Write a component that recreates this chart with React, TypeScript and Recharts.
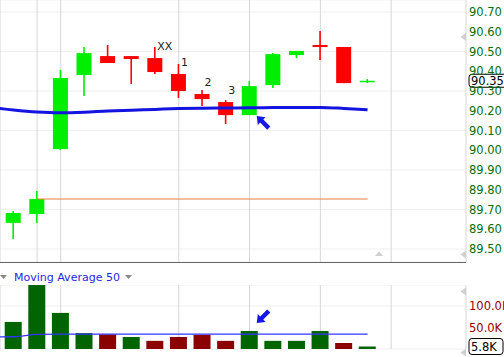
import React from "react"
import { Bar, CartesianGrid, ComposedChart, Line, ReferenceLine, XAxis, YAxis } from "recharts"

// bar slots (one per session), left to right
const slots = [0, 1, 2, 3, 4, 5, 6, 7, 8, 9, 10, 11, 12, 13, 14, 15]
const opens = [89.632, 89.677, 90.006, 90.381, 90.477, 90.477, 90.467, 90.386, 90.285, 90.244, 90.178, 90.33, 90.482, 90.533, 90.523, 90.348]
const highs = [89.692, 89.794, 90.406, 90.523, 90.533, 90.477, 90.523, 90.437, 90.305, 90.254, 90.351, 90.492, 90.503, 90.604, 90.523, 90.361]
const lows = [89.551, 89.632, 90.001, 90.275, 90.442, 90.335, 90.386, 90.265, 90.224, 90.133, 90.178, 90.315, 90.467, 90.457, 90.34, 90.34]
const closes = [89.682, 89.753, 90.366, 90.492, 90.442, 90.462, 90.396, 90.3, 90.259, 90.178, 90.325, 90.487, 90.503, 90.523, 90.34, 90.352]
const volumes = [63, 150, 84, 37, 34, 28, 19, 28, 33, 19, 42, 19, 19, 42, 14, 5.8]
const notes = ["", "", "", "", "", "", "XX", "1", "2", "3", "", "", "", "", "", ""]

// moving averages (slot -1 is the bar before the visible window)
const maSlots = [-1, 0, 1, 2, 3, 4, 5, 6, 7, 8, 9, 10, 11, 12, 13, 14, 15]
const priceMA = [90.218, 90.204, 90.194, 90.19, 90.193, 90.199, 90.203, 90.207, 90.211, 90.213, 90.214, 90.215, 90.216, 90.217, 90.217, 90.212, 90.205]
const volumeMA = [28, 28.5, 34, 34.5, 34.5, 34.5, 34.5, 34.5, 34.5, 34.5, 34.5, 34.5, 34.5, 34.5, 34.5, 34.5, 34.5]

const priceTicks = [89.5, 89.6, 89.7, 89.8, 89.9, 90.0, 90.1, 90.2, 90.3, 90.4, 90.5, 90.6, 90.7]
const volumeTicks = [0, 50, 100]
const gridSlots = [1, 2, 7, 10, 13, 16]
const levelSlots = [1, 15]
const levelPrice = 89.753
const arrowSlot = 10

const FONT = "'DejaVu Sans', Verdana, sans-serif"
const X_DOMAIN: [number, number] = [-0.572, 19.17]

const candles = slots.map((i, k) => ({
  i,
  open: opens[k],
  high: highs[k],
  low: lows[k],
  close: closes[k],
  range: [lows[k], highs[k]],
  note: notes[k],
  arrow: i === arrowSlot,
}))
const volumeRows = slots.map((i, k) => ({
  i,
  vol: volumes[k],
  up: k === 0 || closes[k] >= closes[k - 1],
  arrow: i === arrowSlot,
}))
const maRows = maSlots.map((i, k) => ({ i, ma: priceMA[k] }))
const volMaRows = maSlots.map((i, k) => ({ i, vma: volumeMA[k] }))
const levelRows = levelSlots.map((i) => ({ i, level: levelPrice }))

function Arrow({ x, y, angle }: { x: number; y: number; angle: number }) {
  return (
    <polygon
      points="0,0 -5.5,7 -2.2,7 -2.2,17 2.2,17 2.2,7 5.5,7"
      fill="#1616e6"
      transform={`translate(${x},${y}) rotate(${angle})`}
    />
  )
}

function Candle(props: any) {
  const { x, y, width, height, payload } = props
  if (!payload || payload.open == null) return null
  const top = Math.min(y, y + height)
  const h = Math.abs(height)
  const { open, close, high, low } = payload
  const toY = (v: number) => top + ((high - v) / (high - low)) * h
  const cx = x + width / 2
  const color = close >= open ? "#00ee00" : "#ff0000"
  const bodyTop = toY(Math.max(open, close))
  const bodyBot = toY(Math.min(open, close))
  return (
    <g>
      <line x1={cx} x2={cx} y1={top} y2={top + h} stroke={color} strokeWidth={1.6} />
      <rect x={x} y={bodyTop} width={width} height={Math.max(bodyBot - bodyTop, 1.5)} fill={color} />
      {payload.note ? (
        <text x={cx + 2.5} y={bodyTop - 8} fontSize={11} fontFamily={FONT} fill="#222">
          {payload.note}
        </text>
      ) : null}
      {payload.arrow ? <Arrow x={cx + 7.5} y={toY(low) + 1} angle={-45} /> : null}
    </g>
  )
}

function VolumeBar(props: any) {
  const { x, y, width, height, payload } = props
  const top = Math.min(y, y + height)
  const h = Math.abs(height)
  const cx = x + width / 2
  return (
    <g>
      <rect x={x} y={top} width={width} height={h} fill={payload.up ? "#006400" : "#8b0000"} />
      {payload.arrow ? <Arrow x={cx + 7.5} y={top - 8} angle={-135} /> : null}
    </g>
  )
}

const tag = (text: string, h: number, w: number) => (props: any) => {
  const vb = props.viewBox || {}
  const bx = vb.x + vb.width + 3
  const by = vb.y
  return (
    <g>
      <rect x={bx} y={by - h / 2} width={w} height={h} rx={3} fill="#fff" stroke="#000" />
      <text x={bx + 2} y={by} dy="0.36em" fontSize={11.5} fontFamily={FONT} fill="#000">
        {text}
      </text>
    </g>
  )
}

const lastClose = closes[closes.length - 1]
const lastVolume = volumes[volumes.length - 1]

export default function App() {
  return (
    <div style={{ position: "absolute", left: 0, top: 0, width: 504, height: 357, background: "#fff", fontFamily: FONT }}>
      <div style={{ position: "absolute", left: 0, top: 0 }}>
        <ComposedChart width={504} height={262} data={candles} margin={{ top: 0, right: 0, bottom: 0, left: 0 }}>
          <CartesianGrid horizontal vertical={false} stroke="#f0f0f0" />
          <CartesianGrid vertical horizontal={false} stroke="#d6d6d6" />
          <XAxis dataKey="i" type="number" domain={X_DOMAIN} ticks={gridSlots} allowDataOverflow hide />
          <YAxis
            orientation="right"
            width={38}
            domain={[89.434, 90.761]}
            ticks={priceTicks}
            allowDataOverflow
            axisLine={false}
            tickLine={false}
            tickSize={0}
            tickMargin={3}
            tick={{ fontSize: 11.5, fill: "#0a6e0a", fontFamily: FONT, textAnchor: "start" }}
            tickFormatter={(v: number) => v.toFixed(2)}
          />
          <Line data={levelRows} dataKey="level" stroke="#ef7f3f" strokeWidth={1} dot={false} isAnimationActive={false} />
          <Bar dataKey="range" barSize={15} shape={<Candle />} isAnimationActive={false} />
          <Line
            data={maRows}
            dataKey="ma"
            type="monotone"
            stroke="#1414e0"
            strokeWidth={3}
            dot={false}
            isAnimationActive={false}
          />
          <ReferenceLine y={lastClose} stroke="none" label={tag(lastClose.toFixed(2), 13, 40)} />
        </ComposedChart>
      </div>
      <div style={{ position: "absolute", left: 0, top: 285 }}>
        <ComposedChart width={504} height={72} data={volumeRows} margin={{ top: 0, right: 0, bottom: 8, left: 0 }}>
          <CartesianGrid horizontal vertical={false} stroke="#f0f0f0" />
          <CartesianGrid vertical horizontal={false} stroke="#d6d6d6" />
          <XAxis dataKey="i" type="number" domain={X_DOMAIN} ticks={gridSlots} allowDataOverflow hide />
          <YAxis
            orientation="right"
            width={38}
            domain={[0, 149]}
            ticks={volumeTicks}
            allowDataOverflow
            axisLine={false}
            tickLine={false}
            tickSize={0}
            tickMargin={3}
            tick={{ fontSize: 11.5, fill: "#990000", fontFamily: FONT, textAnchor: "start" }}
            tickFormatter={(v: number) => (v === 0 ? "" : v.toFixed(1) + "K")}
          />
          <Bar dataKey="vol" barSize={17} shape={<VolumeBar />} isAnimationActive={false} />
          <Line
            data={volMaRows}
            dataKey="vma"
            type="monotone"
            stroke="#3434ff"
            strokeWidth={1.3}
            dot={false}
            isAnimationActive={false}
          />
          <ReferenceLine y={lastVolume} stroke="none" label={tag(lastVolume.toFixed(1) + "K", 16, 34)} />
        </ComposedChart>
      </div>
      <svg width={504} height={357} style={{ position: "absolute", left: 0, top: 0, pointerEvents: "none", overflow: "visible" }}>
        <line x1={0} x2={466} y1={262.5} y2={262.5} stroke="#666" strokeWidth={1} />
        <text x={14} y={281} fontSize={11} fontFamily={FONT} fill="#1f1fe6">
          Moving Average 50
        </text>
        <polygon points="0,275 7,275 3.5,279" fill="#888" />
        <polygon points="125,275 132,275 128.5,279" fill="#888" />
        <polygon points="466,33 466,41 460.5,37" fill="#cfcfcf" />
        <polygon points="466,250.5 466,258.5 460.5,254.5" fill="#cfcfcf" />
        <polygon points="375,256 383,256 379,251.5" fill="#cfcfcf" />
        <polygon points="466,287.5 466,295.5 460.5,291.5" fill="#cfcfcf" />
        <polygon points="466,348.5 466,356.5 460.5,352.5" fill="#cfcfcf" />
      </svg>
    </div>
  )
}
